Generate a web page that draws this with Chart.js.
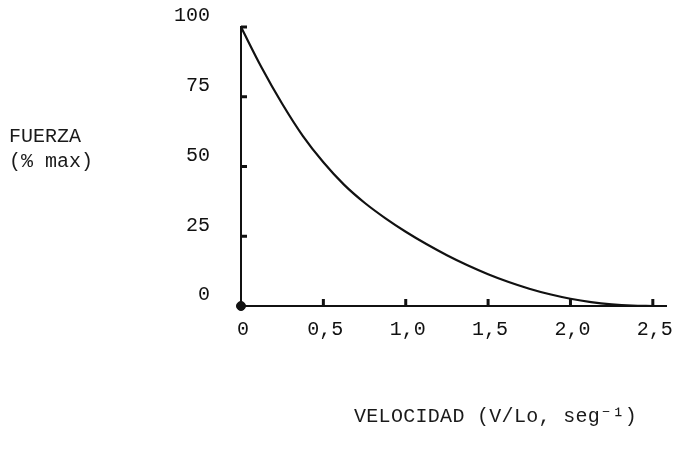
<!DOCTYPE html>
<html>
<head>
<meta charset="utf-8">
<script src="https://cdn.jsdelivr.net/npm/chart.js@4/dist/chart.umd.min.js"></script>
<style>
  body { margin: 0; background: #fff; }
  #wrap { position: relative; width: 674px; height: 449px; }
  .title { position: absolute; font-family: 'Liberation Mono', monospace; font-size: 20px; color: #1a1a1a; white-space: pre; line-height: 25px; }
  #y-title { left: 9px; top: 124px; }
  #x-title { left: 354px; top: 404px; letter-spacing: 0.3px; }
</style>
</head>
<body>
<div id="wrap">
  <canvas id="chart"></canvas>
  <div class="title" id="y-title">FUERZA
(% max)</div>
  <div class="title" id="x-title">VELOCIDAD (V/Lo, seg⁻¹)</div>
</div>
<script>
// velocity (V/Lo, seg-1) and force (% max)
const velocity = [0, 0.125, 0.25, 0.375, 0.5, 0.625, 0.75, 0.875, 1.0, 1.125, 1.25,
  1.375, 1.5, 1.625, 1.75, 1.875, 2.0, 2.125, 2.25, 2.375, 2.5];
const force = [100, 85.5, 72.5, 61, 51.5, 43.5, 37, 31.5, 26.6, 22.2, 18.2,
  14.6, 11.4, 8.6, 6.2, 4.2, 2.6, 1.4, 0.6, 0.15, 0];

const xTicks = [0, 0.5, 1.0, 1.5, 2.0, 2.5];
const xTickLabels = ['0', '0,5', '1,0', '1,5', '2,0', '2,5'];
const yTicks = [0, 25, 50, 75, 100];

const ink = '#111';

// small inward tick marks on both axes
const tickMarks = {
  id: 'tickMarks',
  afterDatasetsDraw(chart) {
    const { ctx, scales: { x, y } } = chart;
    ctx.save();
    ctx.strokeStyle = ink;
    ctx.lineWidth = 3;
    yTicks.forEach(v => {
      if (v === 0) return;
      const py = y.getPixelForValue(v);
      ctx.beginPath();
      ctx.moveTo(x.left, py);
      ctx.lineTo(x.left + 6, py);
      ctx.stroke();
    });
    xTicks.forEach(v => {
      if (v === 0) return;
      const px = x.getPixelForValue(v);
      ctx.beginPath();
      ctx.moveTo(px, y.bottom);
      ctx.lineTo(px, y.bottom - 7);
      ctx.stroke();
    });
    ctx.restore();
  }
};

// fixed axis boxes, no extra room for overhanging labels
function fixBox(size) {
  return s => {
    if (s.isHorizontal()) s.height = size; else s.width = size;
    s.paddingTop = 0; s.paddingBottom = 0; s.paddingLeft = 0; s.paddingRight = 0;
  };
}

Chart.defaults.font.family = "'Liberation Mono', monospace";
Chart.defaults.font.size = 20;
Chart.defaults.color = ink;

new Chart(document.getElementById('chart'), {
  type: 'scatter',
  data: {
    datasets: [{
      data: velocity.map((v, i) => ({ x: v, y: force[i] })),
      showLine: true,
      borderColor: ink,
      borderWidth: 2.2,
      pointRadius: 0,
      cubicInterpolationMode: 'monotone',
      clip: false,
    }, {
      data: [{ x: 0, y: 0 }],
      pointRadius: 4.5,
      backgroundColor: ink,
      borderColor: ink,
      clip: false,
    }]
  },
  options: {
    responsive: true,
    maintainAspectRatio: false,
    animation: false,
    layout: { padding: { left: 0, top: 27, right: 8, bottom: 0 } },
    plugins: { legend: { display: false }, tooltip: { enabled: false } },
    scales: {
      x: {
        type: 'linear',
        min: 0,
        max: 2.58,
        afterFit: fixBox(143),
        afterBuildTicks: s => { s.ticks = xTicks.map(v => ({ value: v })); },
        grid: { display: false, drawTicks: false },
        border: { display: true, color: ink, width: 2 },
        ticks: {
          padding: 12,
          labelOffset: 2,
          maxRotation: 0,
          callback: (v) => xTickLabels[xTicks.indexOf(v)] ?? '',
        }
      },
      y: {
        min: 0,
        max: 100,
        afterFit: fixBox(241),
        afterBuildTicks: s => { s.ticks = yTicks.map(v => ({ value: v })); },
        grid: { display: false, drawTicks: false },
        border: { display: true, color: ink, width: 2 },
        ticks: { padding: 31, labelOffset: -11 }
      }
    }
  },
  plugins: [tickMarks]
});
</script>
</body>
</html>
